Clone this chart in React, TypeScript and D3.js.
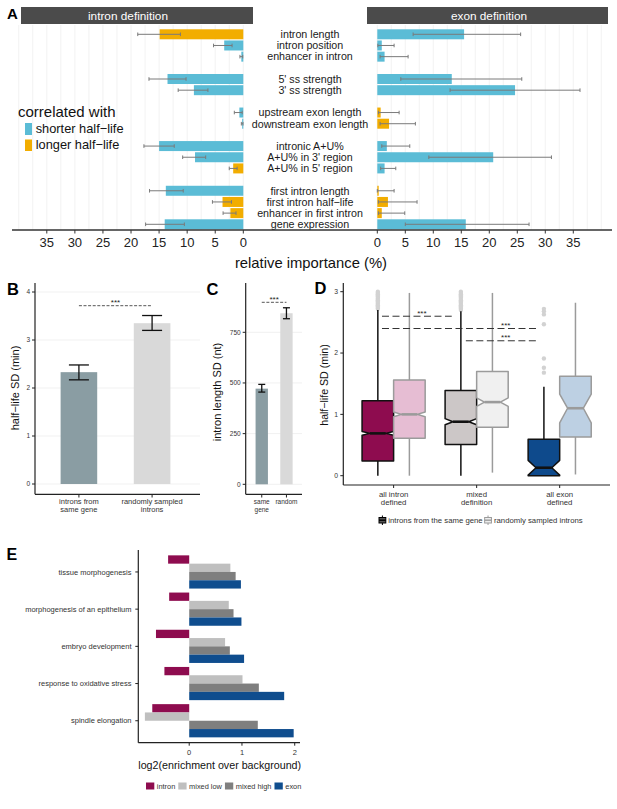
import React from "react";
import * as d3 from "d3";

const FONT = "'Liberation Sans', Arial, Helvetica, sans-serif";
const MINUS = "\u2212";

// ---------- panel A: relative importance ----------
const features = [
  "intron length", "intron position", "enhancer in intron",
  "5' ss strength", "3' ss strength",
  "upstream exon length", "downstream exon length",
  "intronic A+U%", "A+U% in 3' region", "A+U% in 5' region",
  "first intron length", `first intron half${MINUS}life`, "enhancer in first intron", "gene expression",
];
const featureGroup = [0, 0, 0, 1, 1, 2, 2, 3, 3, 3, 4, 4, 4, 4];

const intronImp = [14.9, 3.4, 0.35, 13.5, 8.8, 0.7, 0.2, 15.0, 8.6, 1.8, 13.8, 3.7, 2.3, 14.0];
const intronLo = [11.2, 2.0, 0.1, 10.2, 6.3, 0.2, 0.05, 12.3, 6.7, 1.1, 10.7, 2.1, 1.3, 10.5];
const intronHi = [18.8, 5.3, 0.6, 16.8, 11.6, 1.6, 0.35, 17.7, 10.8, 2.5, 16.7, 5.5, 3.6, 17.4];
const intronDir = ["longer", "shorter", "shorter", "shorter", "shorter", "shorter", "shorter",
  "shorter", "shorter", "longer", "shorter", "longer", "longer", "shorter"];

const exonImp = [15.5, 0.8, 1.3, 13.3, 24.6, 0.6, 2.1, 1.7, 20.7, 1.3, 0.25, 1.9, 0.8, 15.8];
const exonLo = [6.4, 0.1, 0.5, 4.2, 13.0, 0.2, 0.5, 0.8, 9.2, 0.6, 0.0, 0.2, 0.2, 5.0];
const exonHi = [25.6, 3.0, 5.5, 25.8, 36.2, 3.9, 6.8, 5.8, 31.1, 3.3, 3.0, 7.1, 4.9, 27.1];
const exonDir = ["shorter", "shorter", "shorter", "shorter", "shorter", "longer", "longer",
  "shorter", "shorter", "shorter", "longer", "longer", "longer", "shorter"];

const dirColor: Record<string, string> = { shorter: "#5BBCD6", longer: "#F2AD00" };
const importanceTicks = [0, 5, 10, 15, 20, 25, 30, 35];

// ---------- panel B ----------
const bLabels = [["introns from", "same gene"], ["randomly sampled", "introns"]];
const bMean = [2.33, 3.35];
const bLo = [2.17, 3.2];
const bHi = [2.48, 3.51];
const bTicks = [0, 1, 2, 3, 4];

// ---------- panel C ----------
const cLabels = [["same", "gene"], ["random"]];
const cMean = [472, 844];
const cLo = [455, 817];
const cHi = [493, 871];
const cTicks = [0, 250, 500, 750];

const pairFill = ["#8A9DA3", "#D9D9D9"];

// ---------- panel D: boxplots ----------
const dGroups = [["all intron", "defined"], ["mixed", "definition"], ["all exon", "defined"]];
const dSets = ["same", "random"];
// [lower whisker, Q1, median, Q3, upper whisker, notch low, notch high]
const dSame = [
  [0, 0.24, 0.69, 1.22, 2.70, 0.66, 0.72],
  [0, 0.51, 0.88, 1.39, 2.68, 0.83, 0.93],
  [0, 0.0, 0.13, 0.595, 1.45, 0.01, 0.25],
];
const dRandom = [
  [0, 0.61, 1.0, 1.56, 2.98, 0.96, 1.04],
  [0.05, 0.79, 1.2, 1.70, 2.98, 1.13, 1.27],
  [0.02, 0.63, 1.10, 1.62, 2.82, 0.86, 1.33],
];
const dSameOutliers = [
  [2.72, 2.74, 2.76, 2.78, 2.8, 2.82, 2.84, 2.86, 2.88, 2.9, 2.92, 2.94, 2.96, 2.98, 3.0],
  [2.7, 2.72, 2.74, 2.76, 2.78, 2.8, 2.82, 2.84, 2.86, 2.88, 2.9, 2.92, 2.94, 2.96, 2.98, 3.0],
  [2.72, 2.68, 2.63, 2.47, 1.91, 1.76, 1.68],
];
const dSameFill = ["#8E0C4F", "#CCC7C7", "#0E4A8C"];
const dRandomFill = ["#E6BDD3", "#F0F0F0", "#BDD0E3"];
const dTicks = [0, 1, 2, 3];
// significance brackets, in group units (0 = first group)
const dSigFrom = [-0.14, -0.14, 0.87];
const dSigTo = [0.70, 1.73, 1.73];
const dSigY = [2.6, 2.4, 2.2];
const dSigLabelAt = [0.34, 1.35, 1.35];

// ---------- panel E: GO enrichment ----------
const goTerms = ["tissue morphogenesis", "morphogenesis of an epithelium", "embryo development",
  "response to oxidative stress", "spindle elongation"];
const goSeries = ["intron", "mixed low", "mixed high", "exon"];
const goColors = ["#8E0C4F", "#BFBFBF", "#7F7F7F", "#0F4D8E"];
const goIntron = [-0.40, -0.38, -0.63, -0.47, -0.70];
const goMixedLow = [0.78, 0.75, 0.68, 1.01, -0.84];
const goMixedHigh = [0.88, 0.84, 0.77, 1.32, 1.30];
const goExon = [0.98, 0.99, 1.04, 1.80, 1.98];
const goTicks = [0, 1, 2];

let ctx: CanvasRenderingContext2D | null = null;
function textWidth(t: string, size: number) {
  if (!ctx) ctx = document.createElement("canvas").getContext("2d");
  if (!ctx) return t.length * size * 0.5;
  ctx.font = `${size}px ${FONT}`;
  return ctx.measureText(t).width;
}

const AXIS = "#222";

function PanelA() {
  const yA = d3.scaleLinear().domain([0, 17]).range([34.3, 224.3]);
  const xL = d3.scaleLinear().domain([0, 41.2]).range([243.3, 12]);
  const xR = d3.scaleLinear().domain([0, 41.2]).range([377.3, 608]);
  const grid = d3.range(0, 40.01, 2.5);
  const slot = (i: number) => i + featureGroup[i];
  const barH = 10;

  const side = (x: d3.ScaleLinear<number, number>, imp: number[], lo: number[], hi: number[], dir: string[], k: string) =>
    features.map((f, i) => {
      const yc = yA(slot(i));
      return (
        <g key={k + i}>
          <rect x={Math.min(x(0), x(imp[i]))} y={yc - barH / 2} width={Math.abs(x(imp[i]) - x(0))}
            height={barH} fill={dirColor[dir[i]]} />
          <line x1={x(lo[i])} x2={x(hi[i])} y1={yc} y2={yc} stroke="#7a7a7a" strokeWidth={1} />
          <line x1={x(lo[i])} x2={x(lo[i])} y1={yc - 1.8} y2={yc + 1.8} stroke="#7a7a7a" strokeWidth={1} />
          <line x1={x(hi[i])} x2={x(hi[i])} y1={yc - 1.8} y2={yc + 1.8} stroke="#7a7a7a" strokeWidth={1} />
        </g>
      );
    });

  return (
    <g>
      {grid.map((g) => (
        <g key={"g" + g}>
          <line x1={xL(g)} x2={xL(g)} y1={25} y2={230} stroke="#EFEFEF" strokeWidth={0.8} />
          <line x1={xR(g)} x2={xR(g)} y1={25} y2={230} stroke="#EFEFEF" strokeWidth={0.8} />
        </g>
      ))}
      <rect x={21} y={7} width={232} height={17} fill="#4B4B4B" />
      <text x={128} y={20} fontSize={11.8} fill="#fff" textAnchor="middle">intron definition</text>
      <rect x={367} y={7} width={241} height={17} fill="#4B4B4B" />
      <text x={489} y={20} fontSize={11.8} fill="#fff" textAnchor="middle">exon definition</text>

      {side(xL, intronImp, intronLo, intronHi, intronDir, "l")}
      {side(xR, exonImp, exonLo, exonHi, exonDir, "r")}

      {features.map((f, i) => (
        <text key={"f" + i} x={310} y={yA(slot(i)) + 3.8} fontSize={10.7} textAnchor="middle" fill="#1a1a1a">{f}</text>
      ))}

      <line x1={12} x2={612} y1={230} y2={230} stroke="#333" strokeWidth={1.5} />
      {importanceTicks.map((t) => (
        <g key={"t" + t}>
          <line x1={xL(t)} x2={xL(t)} y1={230} y2={233.5} stroke="#333" />
          <text x={xL(t)} y={247} fontSize={13} textAnchor="middle" fill="#222">{t}</text>
          <line x1={xR(t)} x2={xR(t)} y1={230} y2={233.5} stroke="#333" />
          <text x={xR(t)} y={247} fontSize={13} textAnchor="middle" fill="#222">{t}</text>
        </g>
      ))}
      <text x={311} y={268} fontSize={14.8} textAnchor="middle" fill="#111">relative importance (%)</text>

      <text x={18} y={117} fontSize={15} fill="#111">correlated with</text>
      <rect x={25} y={123} width={7} height={12} fill={dirColor.shorter} />
      <text x={35.7} y={133} fontSize={12.8} fill="#111">{`shorter half${MINUS}life`}</text>
      <rect x={25} y={139.5} width={7} height={11.5} fill={dirColor.longer} />
      <text x={35.7} y={149} fontSize={12.8} fill="#111">{`longer half${MINUS}life`}</text>
      <text x={7} y={18.5} fontSize={15} fontWeight="bold">A</text>
    </g>
  );
}

function ErrorBar({ x, w, y1, y2 }: { x: number; w: number; y1: number; y2: number }) {
  return (
    <g stroke="#111" strokeWidth={1.3}>
      <line x1={x} x2={x} y1={y1} y2={y2} />
      <line x1={x - w / 2} x2={x + w / 2} y1={y1} y2={y1} />
      <line x1={x - w / 2} x2={x + w / 2} y1={y2} y2={y2} />
    </g>
  );
}

function PanelB() {
  const x = d3.scaleBand<number>().domain([0, 1]).range([35, 196]).paddingInner(0.5).paddingOuter(0.35);
  const y = d3.scaleLinear().domain([0, 4]).range([484, 292]);
  const bw = x.bandwidth();
  return (
    <g>
      {bTicks.map((t) => (
        <g key={t}>
          <line x1={35} x2={200} y1={y(t)} y2={y(t)} stroke="#F1F1F1" />
          <line x1={32} x2={35} y1={y(t)} y2={y(t)} stroke={AXIS} />
          <text x={30} y={y(t) + 2.3} fontSize={6.5} textAnchor="end" fill="#333">{t}</text>
        </g>
      ))}
      {bMean.map((v, i) => (
        <g key={i}>
          <rect x={x(i)!} y={y(v)} width={bw} height={y(0) - y(v)} fill={pairFill[i]} />
          <ErrorBar x={x(i)! + bw / 2} w={20} y1={y(bHi[i])} y2={y(bLo[i])} />
          <line x1={x(i)! + bw / 2} x2={x(i)! + bw / 2} y1={494.3} y2={497.5} stroke={AXIS} />
          {bLabels[i].map((l, j) => (
            <text key={j} x={x(i)! + bw / 2} y={504 + j * 8} fontSize={7.5} textAnchor="middle" fill="#333">{l}</text>
          ))}
        </g>
      ))}
      <line x1={x(0)! + bw / 2} x2={x(1)! + bw / 2} y1={305.7} y2={305.7} stroke="#555" strokeDasharray="3,1.6" />
      <text x={(x(0)! + x(1)! + bw) / 2} y={305} fontSize={8} textAnchor="middle" fill="#222">***</text>
      <line x1={35} x2={35} y1={283} y2={494.3} stroke={AXIS} strokeWidth={1.2} />
      <line x1={35} x2={200} y1={494.3} y2={494.3} stroke={AXIS} strokeWidth={1.2} />
      <text transform={`translate(18.5,388) rotate(-90)`} fontSize={11} textAnchor="middle" fill="#111">{`half${MINUS}life SD (min)`}</text>
      <text x={7} y={295} fontSize={16.5} fontWeight="bold">B</text>
    </g>
  );
}

function PanelC() {
  const x = d3.scaleBand<number>().domain([0, 1]).range([245.7, 302.5]).paddingInner(0.5).paddingOuter(0.4);
  const y = d3.scaleLinear().domain([0, 750]).range([484.3, 332.3]);
  const bw = x.bandwidth();
  return (
    <g>
      {cTicks.map((t) => (
        <g key={t}>
          <line x1={245.7} x2={302} y1={y(t)} y2={y(t)} stroke="#F1F1F1" />
          <line x1={242.7} x2={245.7} y1={y(t)} y2={y(t)} stroke={AXIS} />
          <text x={240.7} y={y(t) + 2.3} fontSize={6.5} textAnchor="end" fill="#333">{t}</text>
        </g>
      ))}
      {cMean.map((v, i) => (
        <g key={i}>
          <rect x={x(i)!} y={y(v)} width={bw} height={y(0) - y(v)} fill={pairFill[i]} />
          <ErrorBar x={x(i)! + bw / 2} w={7} y1={y(cHi[i])} y2={y(cLo[i])} />
          <line x1={x(i)! + bw / 2} x2={x(i)! + bw / 2} y1={494.3} y2={497.5} stroke={AXIS} />
          {cLabels[i].map((l, j) => (
            <text key={j} x={x(i)! + bw / 2} y={504 + j * 8} fontSize={6.5} textAnchor="middle" fill="#333">{l}</text>
          ))}
        </g>
      ))}
      <line x1={x(0)! + bw / 2} x2={x(1)! + bw / 2} y1={302.3} y2={302.3} stroke="#555" strokeDasharray="3,1.6" />
      <text x={(x(0)! + x(1)! + bw) / 2} y={301.6} fontSize={8} textAnchor="middle" fill="#222">***</text>
      <line x1={245.7} x2={245.7} y1={283} y2={494.3} stroke={AXIS} strokeWidth={1.2} />
      <line x1={245.7} x2={302} y1={494.3} y2={494.3} stroke={AXIS} strokeWidth={1.2} />
      <text transform={`translate(221,392) rotate(-90)`} fontSize={11} textAnchor="middle" fill="#111">intron length SD (nt)</text>
      <text x={206.5} y={295} fontSize={16.5} fontWeight="bold">C</text>
    </g>
  );
}

function NotchBox({ cx, w, s, y, fill, stroke, sw }: { cx: number; w: number; s: number[]; y: d3.ScaleLinear<number, number>; fill: string; stroke: string; sw: number }) {
  const [lw, q1, med, q3, uw, nLo, nHi] = s;
  const l = cx - w / 2, r = cx + w / 2, ind = w * 0.25;
  const pts: [number, number][] = [
    [l, y(q3)], [r, y(q3)], [r, y(nHi)], [r - ind, y(med)], [r, y(nLo)], [r, y(q1)],
    [l, y(q1)], [l, y(nLo)], [l + ind, y(med)], [l, y(nHi)],
  ];
  return (
    <g>
      <line x1={cx} x2={cx} y1={y(uw)} y2={y(q3)} stroke={stroke} strokeWidth={sw} />
      <line x1={cx} x2={cx} y1={y(q1)} y2={y(lw)} stroke={stroke} strokeWidth={sw} />
      <path d={d3.line()(pts) + "Z"} fill={fill} stroke={stroke} strokeWidth={sw} strokeLinejoin="round" />
      <line x1={l + ind} x2={r - ind} y1={y(med)} y2={y(med)} stroke={stroke} strokeWidth={2.6} />
    </g>
  );
}

function PanelD() {
  const x = d3.scaleBand<number>().domain([0, 1, 2]).range([343.3, 610]).paddingInner(0.24).paddingOuter(0.226);
  const sub = d3.scaleBand<string>().domain(dSets).range([0, x.bandwidth()]);
  const y = d3.scaleLinear().domain([0, 3]).range([475.7, 291.7]);
  const bw = sub.bandwidth();
  const gpos = d3.scaleLinear().domain([0, 1]).range([x(0)! + x.bandwidth() / 2, x(1)! + x.bandwidth() / 2]);
  const legendSize = 7.75;
  const l1 = "introns from the same gene";
  const l2 = "randomly sampled introns";
  const lx0 = 379;
  const lx1 = lx0 + 9.3 + textWidth(l1, legendSize) + 2;
  return (
    <g>
      {dTicks.map((t) => (
        <g key={t}>
          <line x1={340.3} x2={343.3} y1={y(t)} y2={y(t)} stroke={AXIS} />
          <text x={338} y={y(t) + 2.3} fontSize={6.8} textAnchor="end" fill="#333">{t}</text>
        </g>
      ))}
      {dGroups.map((g, i) => {
        const cs = x(i)! + sub("same")! + bw / 2;
        const cr = x(i)! + sub("random")! + bw / 2;
        return (
          <g key={i}>
            {dSameOutliers[i].map((o, k) => (
              <circle key={k} cx={cs} cy={y(o)} r={2.2} fill="#D2D2D2" />
            ))}
            <NotchBox cx={cs} w={bw} s={dSame[i]} y={y} fill={dSameFill[i]} stroke="#111" sw={1.5} />
            <NotchBox cx={cr} w={bw} s={dRandom[i]} y={y} fill={dRandomFill[i]} stroke="#9B9B9B" sw={1.5} />
            <line x1={x(i)! + x.bandwidth() / 2} x2={x(i)! + x.bandwidth() / 2} y1={485} y2={488} stroke={AXIS} />
            {g.map((l, j) => (
              <text key={j} x={x(i)! + x.bandwidth() / 2} y={496.5 + j * 8.3} fontSize={7.8} textAnchor="middle" fill="#333">{l}</text>
            ))}
          </g>
        );
      })}
      {dSigY.map((v, i) => (
        <g key={"s" + i}>
          <line x1={gpos(dSigFrom[i])} x2={gpos(dSigTo[i])} y1={y(v)} y2={y(v)} stroke="#333" strokeWidth={1} strokeDasharray="7,3.5" />
          <text x={gpos(dSigLabelAt[i])} y={y(v) - 0.5} fontSize={8} textAnchor="middle" fill="#222">***</text>
        </g>
      ))}
      <line x1={343.3} x2={343.3} y1={283} y2={485} stroke={AXIS} strokeWidth={1.2} />
      <line x1={343.3} x2={610} y1={485} y2={485} stroke={AXIS} strokeWidth={1.2} />
      <text transform={`translate(327.5,385) rotate(-90)`} fontSize={10.6} textAnchor="middle" fill="#111">{`half${MINUS}life SD (min)`}</text>

      <g>
        <line x1={lx0 + 3.4} x2={lx0 + 3.4} y1={515.5} y2={525} stroke="#000" strokeWidth={1} />
        <rect x={lx0} y={517.5} width={6.8} height={5.5} fill="#555" stroke="#000" strokeWidth={1} />
        <line x1={lx0} x2={lx0 + 6.8} y1={520.2} y2={520.2} stroke="#000" strokeWidth={1.4} />
        <text x={lx0 + 9.3} y={523} fontSize={legendSize} fill="#333">{l1}</text>
        <line x1={lx1 + 3.4} x2={lx1 + 3.4} y1={515.5} y2={525} stroke="#9B9B9B" strokeWidth={1} />
        <rect x={lx1} y={517.5} width={6.8} height={5.5} fill="#EEEEEE" stroke="#9B9B9B" strokeWidth={1} />
        <line x1={lx1} x2={lx1 + 6.8} y1={520.2} y2={520.2} stroke="#9B9B9B" strokeWidth={1.4} />
        <text x={lx1 + 9.3} y={523} fontSize={legendSize} fill="#333">{l2}</text>
      </g>
      <text x={314.5} y={294} fontSize={16.5} fontWeight="bold">D</text>
    </g>
  );
}

function PanelE() {
  const y = d3.scaleBand<string>().domain(goTerms).range([550, 742.7]).paddingInner(0.1075).paddingOuter(0.144);
  const inner = d3.scaleBand<string>().domain(goSeries).range([0, y.bandwidth()]);
  const x = d3.scaleLinear().domain([-0.965, 2.1]).range([138.3, 300]);
  const values = [goIntron, goMixedLow, goMixedHigh, goExon];
  const legendSize = 7.4;
  let lx = 146;
  const legend = goSeries.map((s, i) => {
    const item = { s, x: lx, color: goColors[i] };
    lx += 8.3 + 2.5 + textWidth(s, legendSize) + 3;
    return item;
  });
  return (
    <g>
      {goTerms.map((t, i) => (
        <g key={t}>
          {goSeries.map((s, j) => {
            const v = values[j][i];
            return (
              <rect key={s} x={Math.min(x(0), x(v))} y={y(t)! + inner(s)!} width={Math.abs(x(v) - x(0))}
                height={inner.bandwidth()} fill={goColors[j]} />
            );
          })}
          <line x1={135.3} x2={138.3} y1={y(t)! + y.bandwidth() / 2} y2={y(t)! + y.bandwidth() / 2} stroke={AXIS} />
          <text x={131.5} y={y(t)! + y.bandwidth() / 2 + 2.7} fontSize={7.5} textAnchor="end" fill="#333">{t}</text>
        </g>
      ))}
      {goTicks.map((t) => (
        <g key={t}>
          <line x1={x(t)} x2={x(t)} y1={742.7} y2={745.7} stroke={AXIS} />
          <text x={x(t)} y={755} fontSize={7.5} textAnchor="middle" fill="#333">{t}</text>
        </g>
      ))}
      <line x1={138.3} x2={138.3} y1={550} y2={742.7} stroke={AXIS} strokeWidth={1.2} />
      <line x1={138.3} x2={300} y1={742.7} y2={742.7} stroke={AXIS} strokeWidth={1.2} />
      <text x={219.7} y={769.3} fontSize={10.7} textAnchor="middle" fill="#111">log2(enrichment over background)</text>
      {legend.map((it) => (
        <g key={it.s}>
          <rect x={it.x} y={782.5} width={8.3} height={7} fill={it.color} />
          <text x={it.x + 8.3 + 2.5} y={788.7} fontSize={legendSize} fill="#333">{it.s}</text>
        </g>
      ))}
      <text x={6.5} y={560} fontSize={16} fontWeight="bold">E</text>
    </g>
  );
}

export default function App() {
  return (
    <svg width={617} height={809} style={{ position: "absolute", left: 0, top: 0, background: "#fff", fontFamily: FONT }}>
      <rect width={617} height={809} fill="#fff" />
      <PanelA />
      <PanelB />
      <PanelC />
      <PanelD />
      <PanelE />
    </svg>
  );
}
